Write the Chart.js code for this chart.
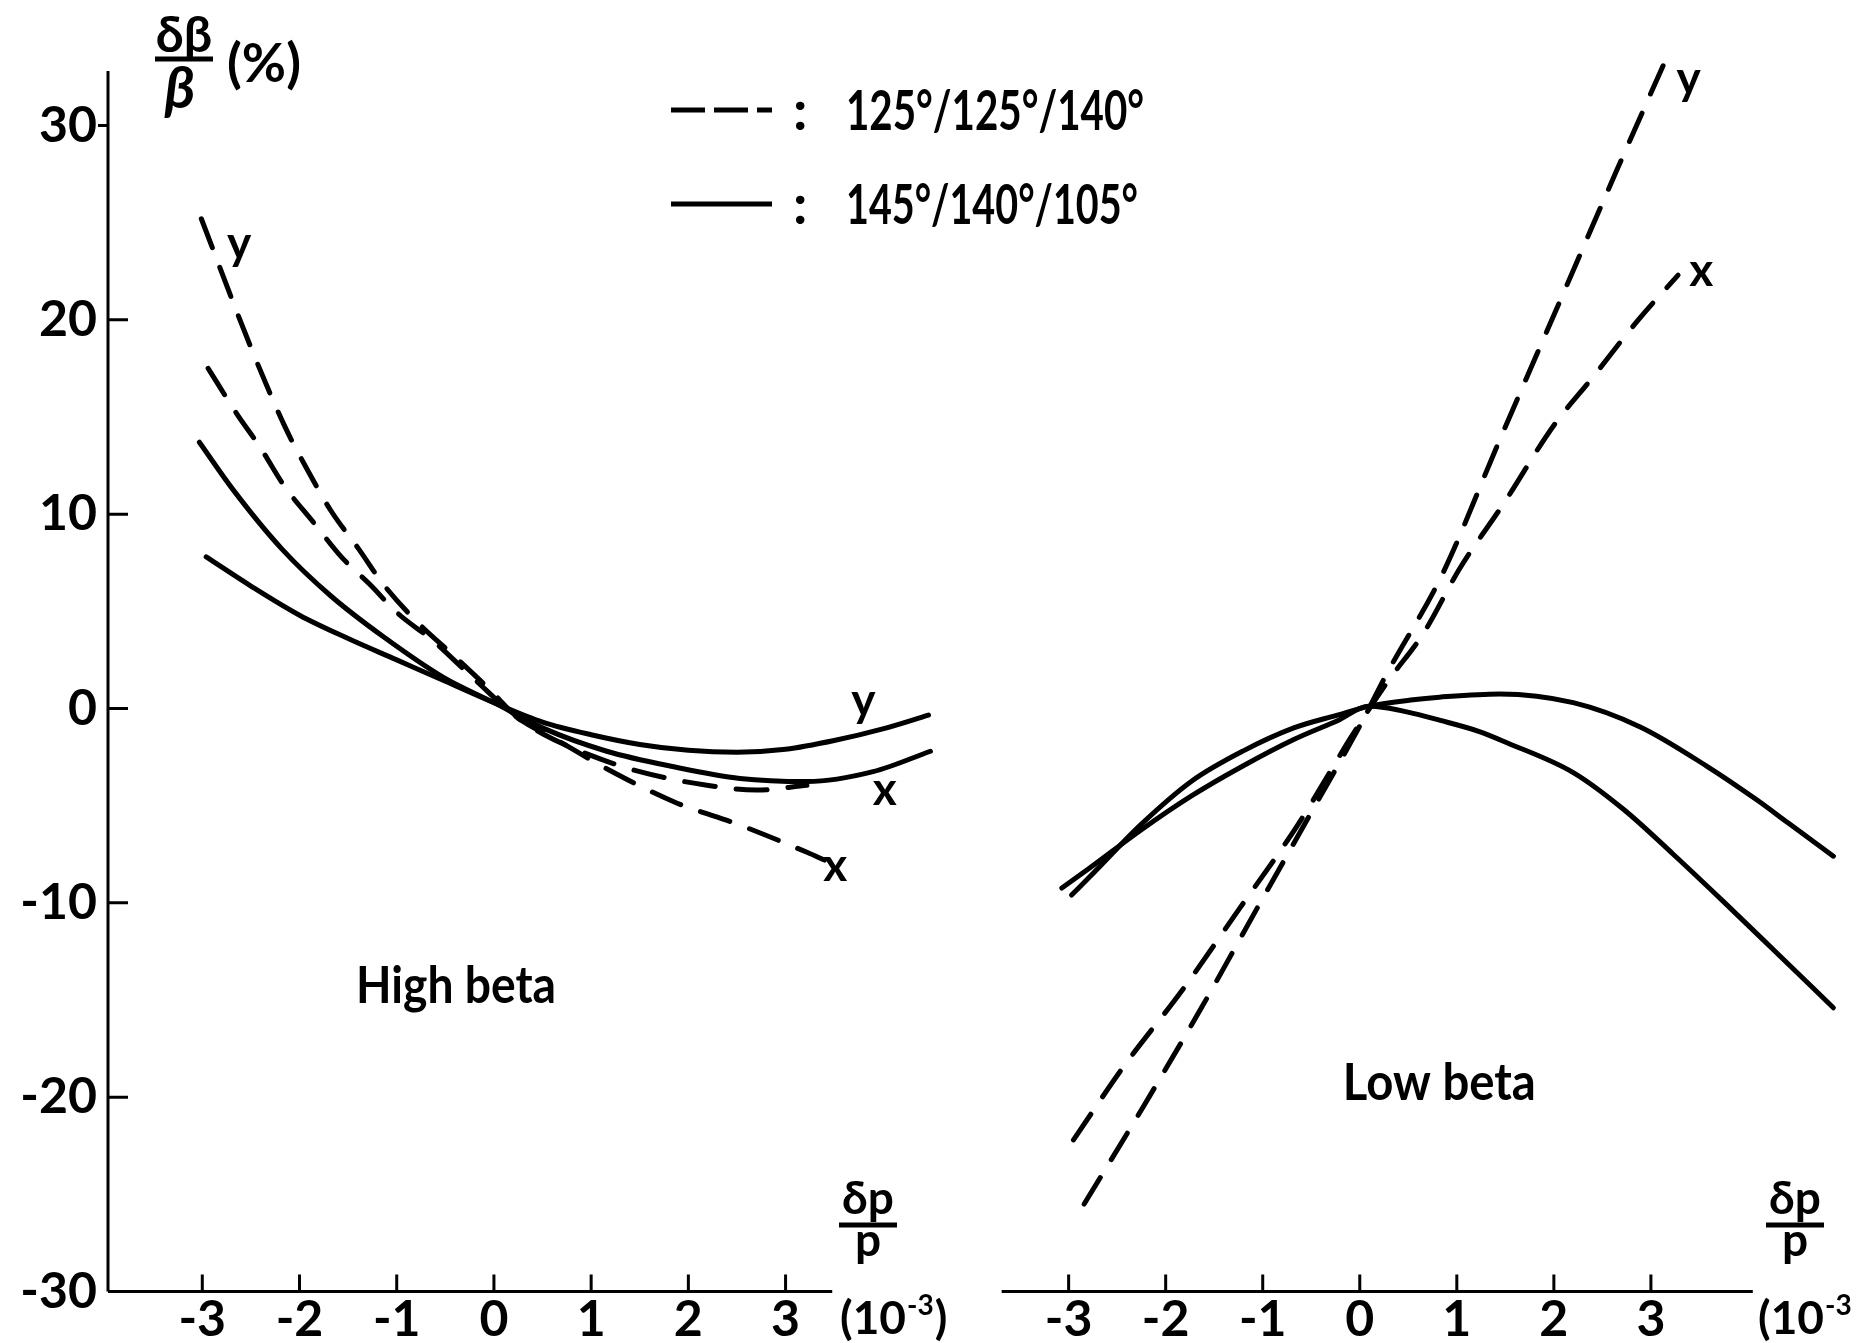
<!DOCTYPE html>
<html>
<head>
<meta charset="utf-8">
<script src="https://cdn.jsdelivr.net/npm/chart.js@4.4.0/dist/chart.umd.min.js"></script>
<style>
  html, body { margin: 0; background: #fff; }
  #wrap { position: relative; width: 1875px; height: 1343px; }
  #wrap canvas { position: absolute; left: 0; top: 0; }
</style>
</head>
<body>
<div id="wrap">
  <canvas id="high" width="1875" height="1343"></canvas>
  <canvas id="low" width="1875" height="1343"></canvas>
</div>
<script>
// tick labels
const xTicks = [-3, -2, -1, 0, 1, 2, 3];
const yTicks = [-30, -20, -10, 0, 10, 20, 30];
const legendLabels = ["125°/125°/140°", "145°/140°/105°"];

// High beta, dashed (125/125/140)
const hiDashYx = [-3.01, -2.51, -2.15, -1.91, -1.68, -1.39, -1.14, -0.78, -0.41, -0.05, 0.25, 0.5, 0.99, 1.5, 2.19, 2.7, 3.22];
const hiDashYv = [25.2, 18.7, 14.5, 12.2, 10.2, 8.2, 6.4, 4.4, 2.7, 1.0, -0.5, -1.3, -2.4, -3.25, -3.95, -4.2, -3.95];
const hiDashXx = [-2.94, -2.65, -2.4, -2.15, -1.86, -1.57, -1.28, -0.99, -0.63, -0.2, 0.25, 0.64, 1.16, 1.85, 2.53, 3.22, 3.4];
const hiDashXv = [17.5, 15.2, 13.4, 11.4, 9.6, 7.8, 6.4, 4.9, 3.5, 1.5, -0.5, -1.6, -3.1, -4.8, -6.0, -7.4, -7.8];
// High beta, solid (145/140/105)
const hiSolXx = [-3.03, -2.69, -2.18, -1.68, -1.14, -0.52, 0, 0.5, 1.16, 1.85, 2.53, 3.22, 3.9, 4.49];
const hiSolXv = [13.7, 11.3, 8.2, 5.8, 3.7, 1.6, 0.3, -1.0, -2.2, -3.0, -3.6, -3.76, -3.25, -2.2];
const hiSolYx = [-2.96, -2.5, -2.0, -1.5, -1.0, -0.5, 0, 0.5, 1.0, 1.5, 2.0, 2.5, 3.0, 3.5, 4.0, 4.47];
const hiSolYv = [7.8, 6.3, 4.8, 3.6, 2.5, 1.4, 0.3, -0.7, -1.35, -1.85, -2.15, -2.25, -2.1, -1.65, -1.05, -0.34];

// Low beta, dashed
const loDashYx = [-2.84, -2.22, -1.62, -1.06, -0.54, 0.0, 0.28, 0.85, 1.44, 2.04, 2.64, 3.19];
const loDashYv = [-25.5, -20.4, -15.3, -10.3, -5.7, -0.9, 1.8, 6.9, 13.8, 20.7, 27.6, 33.8];
const loDashXx = [-2.95, -2.43, -1.83, -1.24, -0.64, -0.08, 0.29, 0.66, 1.03, 1.49, 1.99, 2.41, 2.87, 3.28];
const loDashXv = [-22.2, -18.4, -14.5, -10.3, -6.0, -1.4, 1.4, 3.9, 7.2, 10.6, 14.5, 17.1, 20.0, 22.3];
// Low beta, solid
const loSolAx = [-2.97, -2.78, -2.25, -1.73, -1.2, -0.68, -0.23, 0.09, 0.55, 0.82, 1.44, 2.2, 2.89, 3.57, 4.09, 4.43, 4.88];
const loSolAv = [-9.6, -8.65, -5.95, -3.73, -2.18, -1.0, -0.34, 0.11, 0.45, 0.58, 0.75, 0.3, -0.95, -2.95, -4.7, -5.95, -7.6];
const loSolBx = [-3.07, -2.78, -2.25, -1.73, -1.2, -0.68, -0.23, 0.09, 0.25, 0.55, 0.82, 1.24, 1.51, 2.2, 2.72, 3.23, 3.74, 4.26, 4.88];
const loSolBv = [-9.24, -8.2, -6.24, -4.49, -2.95, -1.6, -0.63, 0.11, 0.05, -0.25, -0.6, -1.2, -1.75, -3.3, -5.2, -7.5, -9.9, -12.4, -15.4];

const FONT = 'Lato, "DejaVu Sans", sans-serif';
Chart.defaults.animation = false;
Chart.defaults.color = "#000";
Chart.defaults.font.family = FONT;

function pts(xs, ys) {
  return xs.map((x, i) => ({ x: x, y: ys[i] }));
}

function series(label, xs, ys, dashed) {
  return {
    label: label,
    data: pts(xs, ys),
    borderColor: "#000",
    borderWidth: 5,
    borderDash: dashed ? [31, 21] : [],
    borderCapStyle: "round",
    pointRadius: 0,
    cubicInterpolationMode: "monotone",
    fill: false
  };
}

function font(size, extra) {
  return (extra || "") + " bold " + size + "px " + FONT;
}

// "(10^-3)" after the axis end
function tenPower(ctx, x, base, close) {
  ctx.textAlign = "left";
  ctx.textBaseline = "alphabetic";
  ctx.font = font(46);
  ctx.fillText("(10", x, base);
  let w = ctx.measureText("(10").width;
  ctx.font = font(28);
  ctx.fillText("-3", x + w + 1, base - 19);
  w += ctx.measureText("-3").width + 2;
  if (close) {
    ctx.font = font(46);
    ctx.fillText(")", x + w, base);
  }
}

function dpOverP(ctx, cx) {
  ctx.textAlign = "center";
  ctx.textBaseline = "alphabetic";
  ctx.font = font(46);
  ctx.fillText("δp", cx, 1214);
  ctx.lineWidth = 5;
  ctx.beginPath();
  ctx.moveTo(cx - 29, 1225);
  ctx.lineTo(cx + 29, 1225);
  ctx.stroke();
  ctx.fillText("p", cx, 1256);
}

const frame = {
  id: "frame",
  afterDraw(chart, args, o) {
    const ctx = chart.ctx;
    const sx = chart.scales.x, sy = chart.scales.y;
    const base = sy.getPixelForValue(-30);
    ctx.save();
    ctx.strokeStyle = "#000";
    ctx.fillStyle = "#000";
    ctx.setLineDash([]);
    ctx.lineWidth = 3;
    ctx.beginPath();
    ctx.moveTo(sx.getPixelForValue(o.axisFrom), base);
    ctx.lineTo(sx.getPixelForValue(o.axisTo), base);
    xTicks.forEach(v => {
      const p = sx.getPixelForValue(v);
      ctx.moveTo(p, base);
      ctx.lineTo(p, base - 17);
    });
    if (o.yAxisTo !== undefined) {
      const left = sx.getPixelForValue(o.axisFrom);
      ctx.moveTo(left, base);
      ctx.lineTo(left, sy.getPixelForValue(o.yAxisTo));
      yTicks.forEach(v => {
        if (v === -30) return;
        const p = sy.getPixelForValue(v);
        ctx.moveTo(left, p);
        ctx.lineTo(v === 30 ? left - 10 : left + 20, p);
      });
    }
    ctx.stroke();

    ctx.textAlign = "center";
    ctx.textBaseline = "middle";
    o.notes.forEach(n => {
      ctx.font = font(n.size);
      const px = sx.getPixelForValue(n.x), py = sy.getPixelForValue(n.y);
      if (n.w) ctx.fillText(n.text, px, py, n.w);
      else ctx.fillText(n.text, px, py);
    });
    if (o.extra) o.extra(ctx);
    ctx.restore();
  }
};

function xScale(min, max) {
  return {
    type: "linear",
    min: min,
    max: max,
    grid: { display: false },
    border: { display: false },
    afterBuildTicks: s => { s.ticks = xTicks.map(v => ({ value: v })); },
    afterFit: s => { s.height = 51.5; },
    ticks: {
      autoSkip: false,
      maxRotation: 0,
      padding: -10,
      color: "#000",
      font: { size: 50, weight: "bold" },
      callback: v => String(v)
    }
  };
}

new Chart(document.getElementById("high"), {
  type: "line",
  data: {
    datasets: [
      series("y 125°/125°/140°", hiDashYx, hiDashYv, true),
      series("x 125°/125°/140°", hiDashXx, hiDashXv, true),
      series("x 145°/140°/105°", hiSolXx, hiSolXv, false),
      series("y 145°/140°/105°", hiSolYx, hiSolYv, false)
    ]
  },
  options: {
    responsive: false,
    layout: { padding: { left: 0, right: 895, top: 38, bottom: 0 } },
    scales: {
      x: xScale(-3.97, 5.0),
      y: {
        type: "linear",
        min: -30,
        max: 34.5,
        grid: { display: false },
        border: { display: false },
        afterBuildTicks: s => { s.ticks = yTicks.map(v => ({ value: v })); },
        afterFit: s => { s.width = 108; },
        ticks: { padding: 3, color: "#000", font: { size: 50, weight: "bold" } }
      }
    },
    plugins: {
      legend: { display: false },
      tooltip: { enabled: false },
      frame: {
        axisFrom: -3.97,
        axisTo: 3.48,
        yAxisTo: 32.8,
        notes: [
          { text: "y", x: -2.62, y: 23.9, size: 46 },
          { text: "y", x: 3.8, y: 0.4, size: 46 },
          { text: "x", x: 4.02, y: -4.2, size: 46 },
          { text: "x", x: 3.51, y: -8.1, size: 46 },
          { text: "High beta", x: -0.39, y: -14.3, size: 52, w: 200 }
        ],
        extra: ctx => {
          // axis title  δβ/β (%)
          ctx.textAlign = "center";
          ctx.textBaseline = "alphabetic";
          ctx.font = font(50);
          ctx.fillText("δβ", 184, 52, 60);
          ctx.lineWidth = 5;
          ctx.beginPath();
          ctx.moveTo(155, 59);
          ctx.lineTo(213, 59);
          ctx.stroke();
          ctx.font = font(58, "italic");
          ctx.fillText("β", 180, 108);
          ctx.font = font(54);
          ctx.fillText("(%)", 264, 82, 74);

          // legend
          ctx.lineWidth = 5;
          ctx.lineCap = "butt";
          ctx.setLineDash([34, 9]);
          ctx.beginPath();
          ctx.moveTo(671, 110);
          ctx.lineTo(772, 110);
          ctx.stroke();
          ctx.setLineDash([]);
          ctx.beginPath();
          ctx.moveTo(671, 204);
          ctx.lineTo(772, 204);
          ctx.stroke();
          ctx.textAlign = "left";
          ctx.font = font(56);
          ctx.fillText(":", 793, 130);
          ctx.fillText(legendLabels[0], 846, 130, 298);
          ctx.fillText(":", 793, 224);
          ctx.fillText(legendLabels[1], 846, 224, 292);

          dpOverP(ctx, 868);
          tenPower(ctx, 840, 1334, true);
        }
      }
    }
  },
  plugins: [frame]
});

new Chart(document.getElementById("low"), {
  type: "line",
  data: {
    datasets: [
      series("y 125°/125°/140°", loDashYx, loDashYv, true),
      series("x 125°/125°/140°", loDashXx, loDashXv, true),
      series("145°/140°/105° a", loSolAx, loSolAv, false),
      series("145°/140°/105° b", loSolBx, loSolBv, false)
    ]
  },
  options: {
    responsive: false,
    layout: { padding: { left: 991, right: 30, top: 38, bottom: 0 } },
    scales: {
      x: xScale(-3.8, 5.0),
      y: { type: "linear", display: false, min: -30, max: 34.5 }
    },
    plugins: {
      legend: { display: false },
      tooltip: { enabled: false },
      frame: {
        axisFrom: -3.69,
        axisTo: 4.05,
        notes: [
          { text: "y", x: 3.39, y: 32.4, size: 46 },
          { text: "x", x: 3.52, y: 22.5, size: 46 },
          { text: "Low beta", x: 0.82, y: -19.3, size: 52, w: 193 }
        ],
        extra: ctx => {
          dpOverP(ctx, 1795);
          tenPower(ctx, 1758, 1334, false);
        }
      }
    }
  },
  plugins: [frame]
});
</script>
</body>
</html>
